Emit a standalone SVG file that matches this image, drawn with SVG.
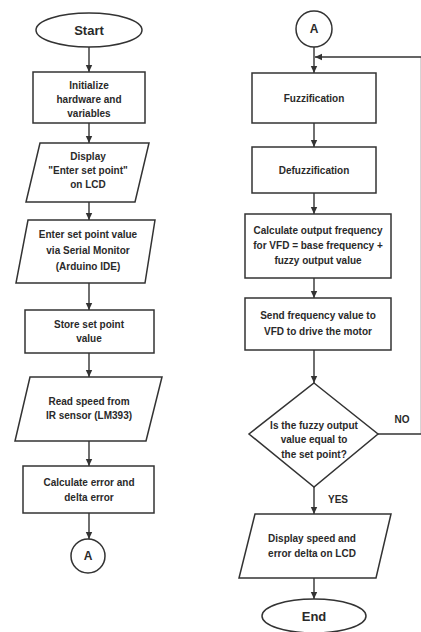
<svg xmlns="http://www.w3.org/2000/svg" width="421" height="632" viewBox="0 0 421 632">
<defs>
<marker id="ah" markerWidth="8" markerHeight="8" refX="7" refY="4" orient="auto" markerUnits="userSpaceOnUse">
<path d="M0,0.8 L7,4 L0,7.2 Z" fill="#333"/>
</marker>
</defs>
<style>
.s{fill:#fff;stroke:#333;stroke-width:1.5}
.t{font-family:"Liberation Sans",Arial,sans-serif;font-weight:bold;font-size:10px;fill:#2a2a2a;text-anchor:middle}
.b{font-size:13px}
.a{font-size:12px}
.c{fill:none;stroke:#333;stroke-width:1.4}
</style>
<rect width="421" height="632" fill="#fff"/>
<g id="connectors">
<line class="c" x1="89" y1="47" x2="89" y2="72" marker-end="url(#ah)"/>
<line class="c" x1="89" y1="123" x2="89" y2="143" marker-end="url(#ah)"/>
<line class="c" x1="89" y1="202" x2="89" y2="220" marker-end="url(#ah)"/>
<line class="c" x1="89" y1="283" x2="89" y2="310" marker-end="url(#ah)"/>
<line class="c" x1="89" y1="353" x2="89" y2="377" marker-end="url(#ah)"/>
<line class="c" x1="89" y1="441" x2="89" y2="466" marker-end="url(#ah)"/>
<line class="c" x1="89" y1="513" x2="89" y2="539" marker-end="url(#ah)"/>
<line class="c" x1="314" y1="47" x2="314" y2="73" marker-end="url(#ah)"/>
<line class="c" x1="314" y1="123" x2="314" y2="147" marker-end="url(#ah)"/>
<line class="c" x1="314" y1="193" x2="314" y2="214" marker-end="url(#ah)"/>
<line class="c" x1="314" y1="278" x2="314" y2="298" marker-end="url(#ah)"/>
<line class="c" x1="314" y1="350" x2="314" y2="383" marker-end="url(#ah)"/>
<line class="c" x1="314" y1="487" x2="314" y2="514" marker-end="url(#ah)"/>
<line class="c" x1="314" y1="578" x2="314" y2="599" marker-end="url(#ah)"/>
<polyline class="c" points="378,434 421.5,434 421.5,57 315,57" marker-end="url(#ah)"/>
<text class="t" x="402" y="423">NO</text>
<text class="t" x="338" y="503">YES</text>
</g>
<g id="start"><ellipse class="s" cx="89" cy="30" rx="53" ry="17"/><text class="t b" x="89" y="35">Start</text></g>
<g id="init"><rect class="s" x="33" y="72" width="112" height="51"/><text class="t" x="89" y="89">Initialize</text><text class="t" x="89" y="103">hardware and</text><text class="t" x="89" y="117">variables</text></g>
<g id="display1"><polygon class="s" points="40,143 149,143 135,202 26,202"/><text class="t" x="88" y="160">Display</text><text class="t" x="88" y="174">"Enter set point"</text><text class="t" x="88" y="188">on LCD</text></g>
<g id="enter"><polygon class="s" points="28,220 155,220 145,283 16,283"/><text class="t" x="88" y="238">Enter set point value</text><text class="t" x="88" y="254">via Serial Monitor</text><text class="t" x="88" y="270">(Arduino IDE)</text></g>
<g id="store"><rect class="s" x="25" y="310" width="129" height="43"/><text class="t" x="89" y="328">Store set point</text><text class="t" x="89" y="342">value</text></g>
<g id="read"><polygon class="s" points="30,377 162,377 146,441 15,441"/><text class="t" x="89" y="405">Read speed from</text><text class="t" x="89" y="419">IR sensor (LM393)</text></g>
<g id="calcerr"><rect class="s" x="23" y="466" width="131" height="47"/><text class="t" x="89" y="486">Calculate error and</text><text class="t" x="89" y="501">delta error</text></g>
<g id="connA1"><circle class="s" cx="88" cy="556" r="17"/><text class="t a" x="88" y="560">A</text></g>
<g id="connA2"><circle class="s" cx="314" cy="29" r="18"/><text class="t a" x="314" y="33">A</text></g>
<g id="fuzz"><rect class="s" x="252" y="73" width="124" height="50"/><text class="t" x="314" y="102">Fuzzification</text></g>
<g id="defuzz"><rect class="s" x="252" y="147" width="124" height="46"/><text class="t" x="314" y="174">Defuzzification</text></g>
<g id="calcfreq"><rect class="s" x="245" y="214" width="146" height="64"/><text class="t" x="318" y="234">Calculate output frequency</text><text class="t" x="318" y="249">for VFD = base frequency +</text><text class="t" x="318" y="264">fuzzy output value</text></g>
<g id="send"><rect class="s" x="245" y="298" width="146" height="52"/><text class="t" x="318" y="319">Send frequency value to</text><text class="t" x="318" y="335">VFD to drive the motor</text></g>
<g id="decision"><polygon class="s" points="314,383 378,434 314,487 249,434"/><text class="t" x="314" y="429">Is the fuzzy output</text><text class="t" x="314" y="443">value equal to</text><text class="t" x="314" y="458">the set point?</text></g>
<g id="display2"><polygon class="s" points="255,514 391,514 376,578 239,578"/><text class="t" x="312" y="542">Display speed and</text><text class="t" x="312" y="557">error delta on LCD</text></g>
<g id="end"><ellipse class="s" cx="314" cy="616" rx="52" ry="17"/><text class="t b" x="314" y="621">End</text></g>
</svg>
